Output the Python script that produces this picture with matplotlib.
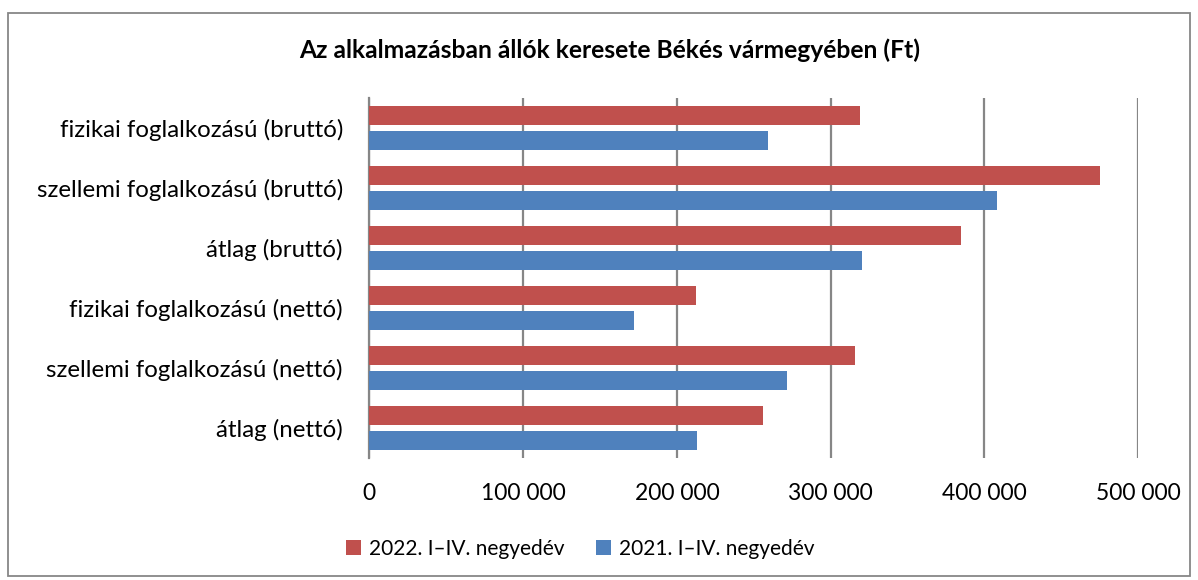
import numpy as np
import matplotlib.pyplot as plt
from matplotlib.patches import Rectangle

plt.rcParams['font.family'] = ['Lato', 'DejaVu Sans']

categories = ["fizikai foglalkozású (bruttó)", "szellemi foglalkozású (bruttó)",
              "átlag (bruttó)", "fizikai foglalkozású (nettó)",
              "szellemi foglalkozású (nettó)", "átlag (nettó)"]
values_2022 = [319000, 475300, 384500, 212200, 316000, 255800]
values_2021 = [259000, 408300, 320600, 172300, 271600, 213300]
series_names = ["2022. I–IV. negyedév", "2021. I–IV. negyedév"]
xticks = [0, 100000, 200000, 300000, 400000, 500000]
xtick_labels = ["0", "100 000", "200 000", "300 000", "400 000", "500 000"]

red = "#C0504D"
blue = "#4F81BD"
grid = "#868686"

fig = plt.figure(figsize=(11.98, 5.8), dpi=100)
W, H = 1198, 580
ax = fig.add_axes([369.3 / W, 1 - 457.7 / H, (1138.3 - 369.3) / W, (457.7 - 98.3) / H])

n = len(categories)
y = np.arange(n)[::-1].astype(float)
h = 0.317
off = 0.2075
ax.barh(y + off, values_2022, height=h, color=red, label=series_names[0], zorder=3)
ax.barh(y - off, values_2021, height=h, color=blue, label=series_names[1], zorder=3)

ax.set_xlim(0, 500000)
ax.set_ylim(-0.5, n - 0.5)
ax.set_xticks(xticks)
ax.set_xticklabels(xtick_labels, fontsize=16.5)
ax.set_yticks(y)
ax.set_yticklabels(categories, fontsize=17.3)
ax.tick_params(axis='both', length=0)
ax.tick_params(axis='x', pad=18)
ax.tick_params(axis='y', pad=19)
ax.grid(axis='x', color=grid, linewidth=1.6, zorder=0)
for s in ['top', 'right', 'bottom']:
    ax.spines[s].set_visible(False)
ax.spines['left'].set_color(grid)
ax.spines['left'].set_linewidth(1.6)

fig.text(609.5 / W, 1 - 50 / H, "Az alkalmazásban állók keresete Békés vármegyében (Ft)",
         ha='center', va='center', fontsize=17.7, fontweight='bold')

fig.legend(loc='center', bbox_to_anchor=(580 / W, 1 - 549 / H), ncol=2, frameon=False,
           fontsize=15, handlelength=0.72, handleheight=0.72, handletextpad=0.38,
           columnspacing=1.5)

fig.patches.append(Rectangle((8 / W, 1 - 576 / H), 1182 / W, 563 / H, transform=fig.transFigure,
                             fill=False, edgecolor="#878787", linewidth=1.3))

fig.savefig("out.png", dpi=100)
